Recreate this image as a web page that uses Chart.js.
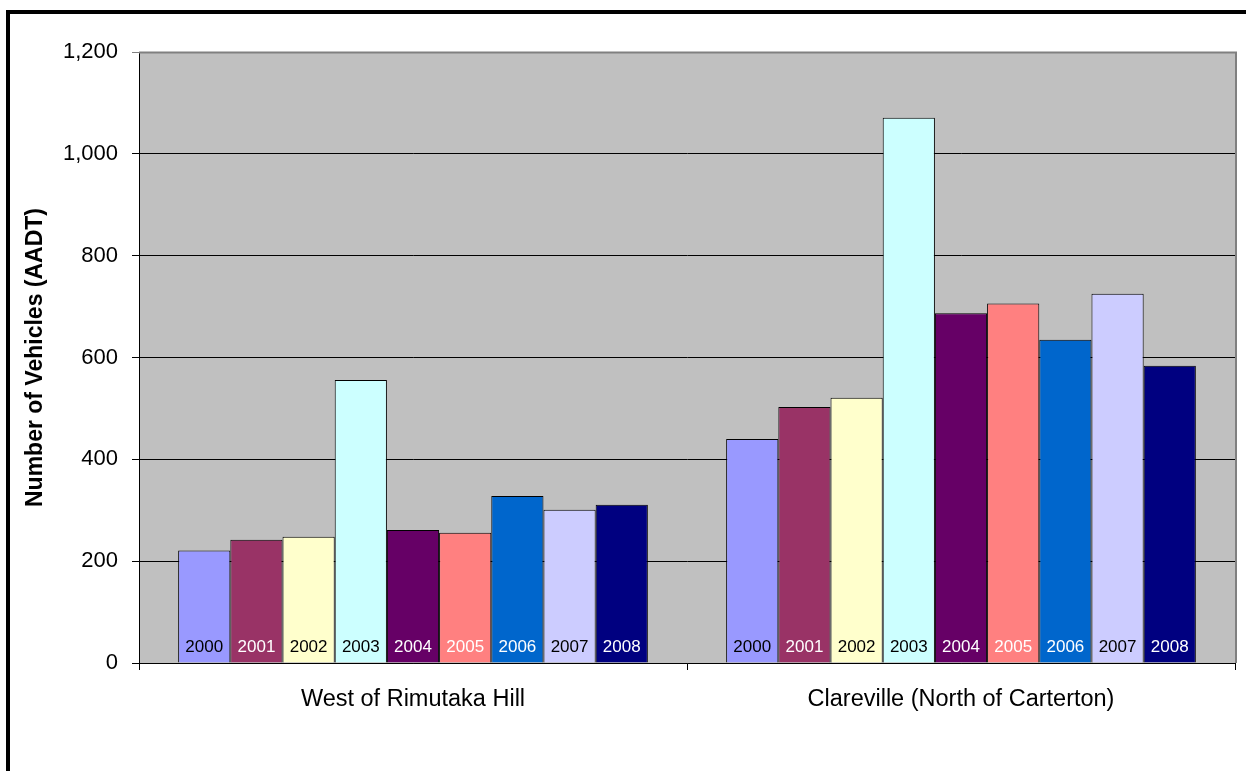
<!DOCTYPE html>
<html>
<head>
<meta charset="utf-8">
<script src="https://cdn.jsdelivr.net/npm/chart.js@4/dist/chart.umd.min.js"></script>
<style>
  html, body { margin: 0; padding: 0; background: #fff; overflow: hidden; }
  #wrap { position: relative; width: 1246px; height: 771px; }
</style>
</head>
<body>
<div id="wrap"><canvas id="c" width="1246" height="771"></canvas></div>
<script>
// ---- Data ----
const categories = ['West of Rimutaka Hill', 'Clareville (North of Carterton)'];
const years = ['2000', '2001', '2002', '2003', '2004', '2005', '2006', '2007', '2008'];
const westOfRimutakaHill = [221, 242, 248, 556, 261, 256, 328, 301, 311];
const clarevilleNorthOfCarterton = [440, 503, 521, 1071, 687, 706, 635, 725, 584];
const yTickMin = 0;
const yTickMax = 1200;
const yTickStep = 200;

// ---- Styles ----
const barColors = ['#9999FF', '#993366', '#FFFFCC', '#CCFFFF', '#660066', '#FF8080', '#0066CC', '#CCCCFF', '#000080'];
const yearLabelColors = ['#000', '#fff', '#000', '#000', '#fff', '#fff', '#fff', '#000', '#fff'];
const FONT = "'Liberation Sans', Arial, sans-serif";

const datasets = years.map((y, i) => ({
  label: y,
  data: [westOfRimutakaHill[i], clarevilleNorthOfCarterton[i]],
  backgroundColor: barColors[i],
  borderColor: '#000',
  borderWidth: 1,
  categoryPercentage: 9 / 10.5,
  barPercentage: 1.0
}));

const framePlugin = {
  id: 'frame',
  beforeDraw(chart) {
    const { ctx, chartArea: a } = chart;
    ctx.save();
    ctx.fillStyle = '#fff';
    ctx.fillRect(0, 0, chart.width, chart.height);
    ctx.fillStyle = '#C0C0C0';
    ctx.fillRect(a.left, a.top, a.right - a.left, a.bottom - a.top);
    // outer black frame (left and top visible)
    ctx.fillStyle = '#000';
    ctx.fillRect(6, 10, 4, chart.height);
    ctx.fillRect(6, 10, chart.width, 4);
    ctx.restore();
  },
  afterDraw(chart) {
    const { ctx, chartArea: a } = chart;
    ctx.save();
    ctx.strokeStyle = '#808080';
    ctx.lineWidth = 2;
    ctx.beginPath();
    ctx.moveTo(a.left, a.top + 0.5);
    ctx.lineTo(a.right + 1, a.top + 0.5);
    ctx.lineTo(a.right + 1, a.bottom);
    ctx.stroke();
    ctx.restore();
  }
};

const yearLabelPlugin = {
  id: 'yearLabels',
  afterDatasetsDraw(chart) {
    const { ctx } = chart;
    ctx.save();
    ctx.font = '17px ' + FONT;
    ctx.textAlign = 'center';
    ctx.textBaseline = 'alphabetic';
    chart.data.datasets.forEach((ds, i) => {
      const meta = chart.getDatasetMeta(i);
      meta.data.forEach(bar => {
        ctx.fillStyle = yearLabelColors[i];
        ctx.fillText(ds.label, bar.x, bar.base - 11);
      });
    });
    ctx.restore();
  }
};

new Chart(document.getElementById('c'), {
  type: 'bar',
  data: { labels: categories, datasets },
  plugins: [framePlugin, yearLabelPlugin],
  options: {
    responsive: false,
    animation: false,
    devicePixelRatio: 1,
    layout: { padding: { top: 52, right: 11, left: 0, bottom: 0 } },
    plugins: { legend: { display: false }, tooltip: { enabled: false } },
    scales: {
      x: {
        offset: true,
        grid: { offset: true, drawOnChartArea: false, drawTicks: true, tickLength: 7, color: '#000', lineWidth: 1 },
        border: { display: true, color: '#000', width: 1 },
        ticks: { color: '#000', font: { family: FONT, size: 23.5 }, padding: 15, maxRotation: 0 },
        afterFit(scale) { scale.height = 108; }
      },
      y: {
        min: yTickMin,
        max: yTickMax,
        grid: {
          color: ctx => (ctx.tick && ctx.tick.value === yTickMax) ? '#808080' : '#000',
          lineWidth: 1, drawTicks: true, tickLength: 7
        },
        border: { display: true, color: '#000', width: 1 },
        ticks: {
          stepSize: yTickStep,
          color: '#000',
          font: { family: FONT, size: 22 },
          padding: 14,
          callback: v => Number(v).toLocaleString('en-US')
        },
        title: {
          display: true,
          text: 'Number of Vehicles (AADT)',
          color: '#000',
          font: { family: FONT, size: 23, weight: 'bold' },
          padding: { top: 22, bottom: 0 }
        },
        afterFit(scale) { scale.width = 139; }
      }
    }
  }
});
</script>
</body>
</html>
